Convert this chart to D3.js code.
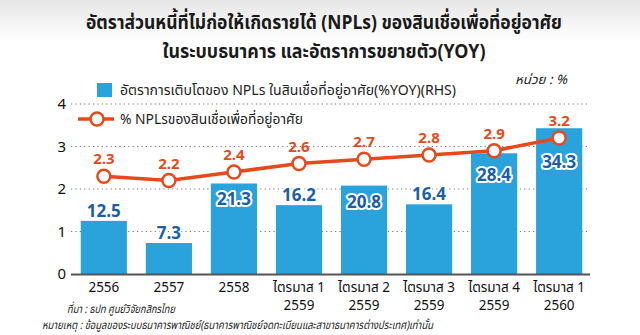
<!DOCTYPE html>
<html><head><meta charset="utf-8">
<script src="https://cdn.jsdelivr.net/npm/d3@7"></script>
<style>
html,body{margin:0;padding:0;background:#fff;}
svg{display:block;}
text{font-family:"Noto Sans Thai","Noto Sans","DejaVu Sans",sans-serif;}
</style></head>
<body>
<svg id="c" width="640" height="335"></svg>
<script>
const categories = [["2556"],["2557"],["2558"],["ไตรมาส 1","2559"],["ไตรมาส 2","2559"],["ไตรมาส 3","2559"],["ไตรมาส 4","2559"],["ไตรมาส 1","2560"]];
const growthYoY = [12.5, 7.3, 21.3, 16.2, 20.8, 16.4, 28.4, 34.3];
const nplRatio = [2.3, 2.2, 2.4, 2.6, 2.7, 2.8, 2.9, 3.2];
const yTicks = [0, 1, 2, 3, 4];
const titleLines = ["อัตราส่วนหนี้ที่ไม่ก่อให้เกิดรายได้ (NPLs) ของสินเชื่อเพื่อที่อยู่อาศัย", "ในระบบธนาคาร และอัตราการขยายตัว(YOY)"];
const legendBar = "อัตราการเติบโตของ NPLs ในสินเชื่อที่อยู่อาศัย(%YOY)(RHS)";
const legendLine = "% NPLsของสินเชื่อเพื่อที่อยู่อาศัย";
const unitLabel = "หน่วย : %";
const footnotes = ["ที่มา : ธปท ศูนย์วิจัยกสิกรไทย", "หมายเหตุ : ข้อมูลของระบบธนาคารพาณิชย์(ธนาคารพาณิชย์จดทะเบียนและสาขาธนาคารต่างประเทศ)เท่านั้น"];

const svg = d3.select("#c");
const BLUE = "#2aa3dd", DBLUE = "#1a5ea8", RED = "#e64a1c";

const defs = svg.append("defs");
const g0 = defs.append("linearGradient").attr("id","bg").attr("x1",0).attr("y1",0).attr("x2",0).attr("y2",1);
g0.append("stop").attr("offset","0").attr("stop-color","#e6e6e6");
g0.append("stop").attr("offset","0.12").attr("stop-color","#ffffff");
g0.append("stop").attr("offset","1").attr("stop-color","#ffffff");
svg.append("rect").attr("width",640).attr("height",335).attr("fill","url(#bg)");

const x = d3.scaleBand().domain(d3.range(categories.length)).range([71, 592]).paddingInner(0.29).paddingOuter(0.15);
const y = d3.scaleLinear().domain([0, 4]).range([274, 104]);
const yBar = d3.scaleLinear().domain([0, 40]).range([274, 104]);
const cx = i => x(i)+x.bandwidth()/2;

// title
svg.append("g").selectAll("text").data(titleLines).join("text")
  .attr("x", 324).attr("y", (d,i) => 29 + i*29)
  .attr("text-anchor","middle").attr("font-size", 20).attr("font-weight","bold").attr("fill","#1a1a1a")
  .attr("textLength",(d,i)=> i===0?476:323).attr("lengthAdjust","spacingAndGlyphs")
  .text(d => d);

// grid
svg.append("g").selectAll("line").data(yTicks.filter(d=>d>0)).join("line")
  .attr("x1",71).attr("x2",590).attr("y1",d=>y(d)).attr("y2",d=>y(d))
  .attr("stroke","#777").attr("stroke-width",1.2).attr("stroke-dasharray","1.2,3.2");

// y axis labels
const yAxis = d3.axisLeft(y).tickValues(yTicks).tickSize(0).tickPadding(0).tickFormat(d3.format("d"));
const ya = svg.append("g").attr("transform","translate(66,0)").call(yAxis);
ya.select(".domain").remove();
ya.selectAll("text").attr("font-size",15).attr("fill","#111").attr("font-family","Liberation Sans Narrow, Liberation Sans, sans-serif");

// bars
svg.append("g").selectAll("rect").data(growthYoY).join("rect")
  .attr("x",(d,i)=>x(i)).attr("width",x.bandwidth())
  .attr("y",d=>yBar(d)).attr("height",d=>274-yBar(d)).attr("fill",BLUE);

// baseline
svg.append("line").attr("x1",71).attr("x2",590).attr("y1",274.5).attr("y2",274.5).attr("stroke","#555").attr("stroke-width",2);

// x labels (one text per category, lines as tspans)
const xt = svg.append("g").selectAll("text").data(categories).join("text")
  .attr("transform",(d,i)=>`translate(${cx(i)},292) scale(0.9,1)`)
  .attr("text-anchor","middle").attr("font-size",15).attr("fill","#111");
xt.selectAll("tspan").data(d=>d).join("tspan")
  .attr("x",0).attr("dy",(d,j)=>j===0?0:18).text(d=>d);

// line
svg.append("path").datum(nplRatio)
  .attr("d", d3.line().x((d,i)=>cx(i)).y(d=>y(d)))
  .attr("fill","none").attr("stroke",RED).attr("stroke-width",3.5);
svg.append("g").selectAll("circle").data(nplRatio).join("circle")
  .attr("cx",(d,i)=>cx(i)).attr("cy",d=>y(d)).attr("r",6.5)
  .attr("fill","#fff").attr("stroke",RED).attr("stroke-width",2.5);
svg.append("g").selectAll("text").data(nplRatio).join("text")
  .attr("x",(d,i)=>cx(i)).attr("y",d=>y(d)-12)
  .attr("text-anchor","middle").attr("font-size",15).attr("font-weight","bold").attr("fill",RED)
  .attr("font-family","Liberation Sans Narrow, Liberation Sans, sans-serif")
  .text(d=>d.toFixed(1));

// bar labels
svg.append("g").selectAll("text").data(growthYoY).join("text")
  .attr("x",(d,i)=>cx(i))
  .attr("y",(d,i)=>{
    const top = yBar(d);
    if (d < 20) return top - 4;
    return Math.max(top + 22, y(nplRatio[i]) + 30);
  })
  .attr("text-anchor","middle").attr("font-size",17).attr("font-weight","bold").attr("fill",DBLUE)
  .attr("font-family","Liberation Sans Narrow, Liberation Sans, sans-serif")
  .attr("stroke","#fff").attr("stroke-width",4).attr("stroke-linejoin","round").attr("paint-order","stroke")
  .text(d=>d.toFixed(1));

// legend
svg.append("rect").attr("x",97).attr("y",83).attr("width",15).attr("height",14).attr("fill",BLUE);
svg.append("text").attr("x",120).attr("y",95).attr("font-size",14).attr("fill","#222")
  .attr("textLength",336).attr("lengthAdjust","spacingAndGlyphs").text(legendBar);
svg.append("line").attr("x1",78).attr("x2",114).attr("y1",119).attr("y2",119).attr("stroke",RED).attr("stroke-width",3.5);
svg.append("circle").attr("cx",97).attr("cy",119).attr("r",6.5).attr("fill","#fff").attr("stroke",RED).attr("stroke-width",2.5);
svg.append("text").attr("x",120).attr("y",124).attr("font-size",14).attr("fill","#222")
  .attr("textLength",183).attr("lengthAdjust","spacingAndGlyphs").text(legendLine);
svg.append("text").attr("x",567).attr("y",84).attr("text-anchor","end").attr("font-size",13).attr("font-style","italic").attr("fill","#222")
  .attr("textLength",52).attr("lengthAdjust","spacingAndGlyphs").text(unitLabel);

// footnotes
svg.append("g").selectAll("text").data(footnotes).join("text")
  .attr("x",(d,i)=>i===0?67:42).attr("y",(d,i)=>313+i*16)
  .attr("font-size",11.5).attr("font-style","italic").attr("fill","#222")
  .attr("textLength",(d,i)=>i===0?108:391).attr("lengthAdjust","spacingAndGlyphs")
  .text(d=>d);
</script>
</body></html>
